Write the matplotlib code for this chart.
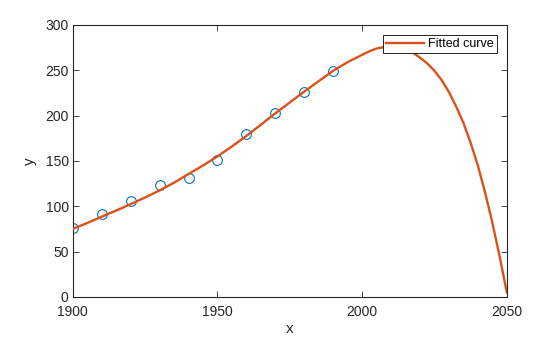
import matplotlib

matplotlib.use("Agg")
import matplotlib.pyplot as plt

# census data (millions)
years = [1900, 1910, 1920, 1930, 1940, 1950, 1960, 1970, 1980, 1990]
population = [75.995, 91.972, 105.711, 123.203, 131.669,
              150.697, 179.323, 203.212, 226.505, 249.633]

# fitted curve, values
fit_years = [1900, 1905, 1910, 1915, 1920, 1925, 1930, 1935, 1940, 1945,
             1950, 1955, 1960, 1965, 1970, 1975, 1980, 1985, 1990, 1995,
             2000, 2002.5, 2005, 2007.5, 2010, 2012.5, 2015, 2017.5, 2020,
             2022.5, 2025, 2027.5, 2030, 2032.5, 2035, 2037.5, 2040, 2042.5,
             2045, 2047.5, 2050]
fit_values = [75, 81.5, 88.5, 95.3, 102.3, 109.7, 117.5, 126, 135.5, 145,
              155, 166, 177.5, 190, 202.5, 214.5, 226.5, 238, 249.5, 259,
              267, 271, 274, 275.5, 276.5, 276, 273.5, 269.5, 264,
              257.5, 249.5, 239, 226, 210, 192, 170, 145, 115,
              82, 45, 5]

x_ticks = [1900, 1950, 2000, 2050]
y_ticks = [0, 50, 100, 150, 200, 250, 300]

plt.rcParams["font.family"] = ["Liberation Sans", "DejaVu Sans"]
text_color = "#262626"

fig = plt.figure(figsize=(5.6, 3.37), dpi=100)
ax = fig.add_axes([0.13, 0.119, 0.775, 0.807])

ax.plot(years, population, "o", color="#0072BD", markerfacecolor="none",
        markersize=7, markeredgewidth=0.8, zorder=2)
ax.plot(fit_years, fit_values, "-", color="#D95319", linewidth=1.7,
        label="Fitted curve", zorder=3)

ax.set_xlim(1900, 2050)
ax.set_ylim(0, 300)
ax.set_xticks(x_ticks)
ax.set_yticks(y_ticks)
ax.tick_params(direction="in", length=4, width=0.6, top=True, right=True,
               labelsize=10, colors=text_color, pad=3)
ax.tick_params(axis="x", pad=6)
for spine in ax.spines.values():
    spine.set_linewidth(0.8)
    spine.set_color(text_color)

ax.set_xlabel("x", fontsize=11, color=text_color, labelpad=2)
ax.set_ylabel("y", fontsize=11, color=text_color, labelpad=6)

leg = ax.legend(loc="upper right", fontsize=9, fancybox=False, framealpha=1,
                edgecolor="black", handlelength=3.0, borderpad=0.25,
                borderaxespad=0.8, handletextpad=0.35)
leg.get_frame().set_linewidth(0.6)

fig.savefig("out.png", dpi=100)
